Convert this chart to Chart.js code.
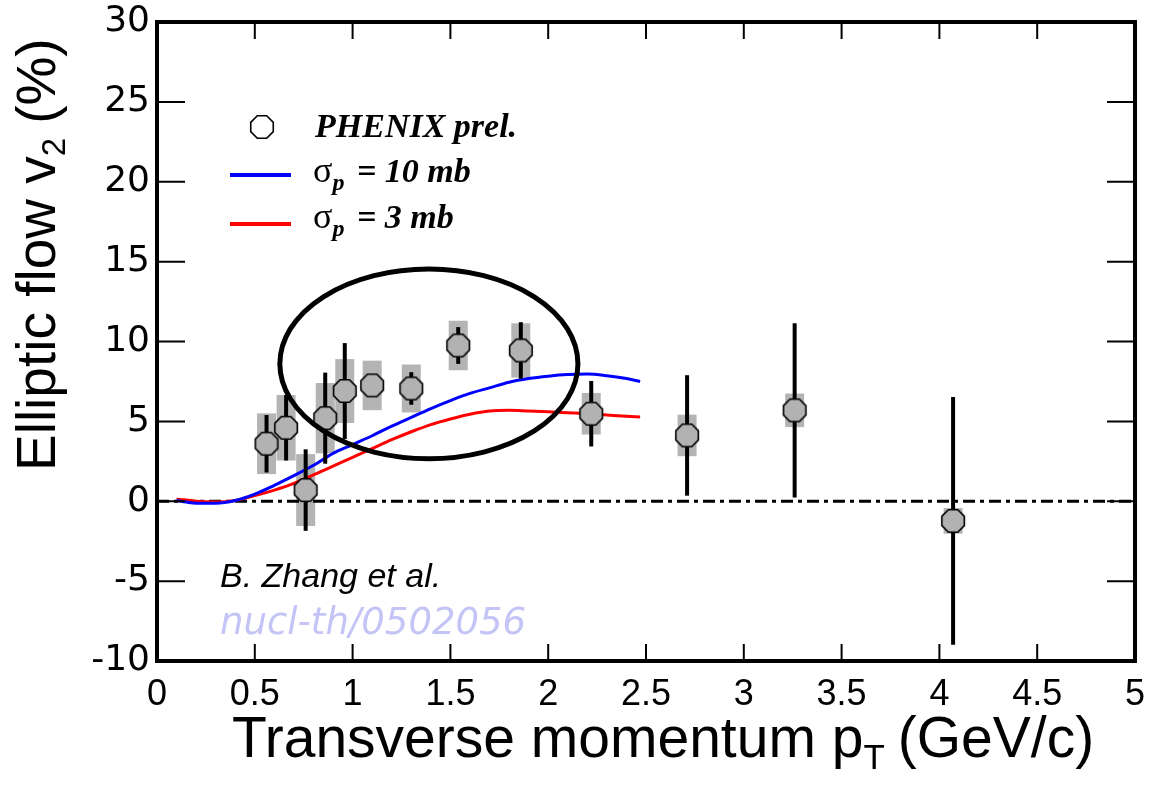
<!DOCTYPE html>
<html>
<head>
<meta charset="utf-8">
<title>Elliptic flow v2 vs pT</title>
<script src="https://cdn.jsdelivr.net/npm/chart.js@4.4.1/dist/chart.umd.min.js"></script>
<style>
  html, body { margin: 0; padding: 0; background: #fff; }
  #wrap { width: 1150px; height: 785px; }
</style>
</head>
<body>
<div id="wrap"><canvas id="v2chart" width="1150" height="785"></canvas></div>
<script>
// PHENIX preliminary v2 (%) with statistical and systematic errors
const ptValues = [0.56, 0.66, 0.76, 0.86, 0.96, 1.10, 1.30, 1.54, 1.86, 2.22, 2.71, 3.26, 4.07];
const v2Values = [3.6, 4.6, 0.7, 5.2, 6.9, 7.25, 7.06, 9.75, 9.44, 5.48, 4.12, 5.69, -1.23];
const statErrors = [1.8, 2.05, 2.55, 2.85, 3.0, 0.6, 1.02, 1.15, 1.77, 2.05, 3.77, 5.45, 7.75];
const sysErrors = [1.9, 2.05, 2.25, 2.2, 2.0, 1.55, 1.5, 1.55, 1.7, 1.3, 1.3, 1.05, 0.8];

// transport model curves
const curvePt = [0.10, 0.15, 0.20, 0.30, 0.40, 0.50, 0.60, 0.70, 0.80, 0.90, 1.00, 1.10, 1.20,
  1.30, 1.40, 1.50, 1.60, 1.70, 1.80, 1.90, 2.00, 2.10, 2.20, 2.30, 2.40, 2.47];
const sigma10mb = [0.05, -0.05, -0.12, -0.12, 0.05, 0.45, 1.0, 1.6, 2.25, 3.0, 3.55, 4.1, 4.7,
  5.25, 5.8, 6.3, 6.75, 7.1, 7.45, 7.68, 7.83, 7.93, 7.96, 7.86, 7.68, 7.5];
const sigma3mb = [0.12, 0.08, 0.0, -0.05, 0.05, 0.35, 0.7, 1.12, 1.65, 2.2, 2.75, 3.3, 3.85,
  4.35, 4.8, 5.15, 5.45, 5.65, 5.7, 5.65, 5.6, 5.54, 5.48, 5.4, 5.32, 5.27];

const xTicks = [0, 0.5, 1, 1.5, 2, 2.5, 3, 3.5, 4, 4.5, 5];
const yTicks = [-10, -5, 0, 5, 10, 15, 20, 25, 30];

// highlighted region (data units)
const ringCenter = [1.39, 8.6];
const ringRadii = [0.762, 5.94];

const SANS = '"Liberation Sans", Arial, sans-serif';
const SERIF = '"Liberation Serif", "Times New Roman", serif';

function octagonPath(ctx, cx, cy, r) {
  ctx.beginPath();
  for (let k = 0; k < 8; k++) {
    const a = Math.PI / 8 + k * Math.PI / 4;
    const px = cx + r * Math.cos(a), py = cy + r * Math.sin(a);
    if (k) ctx.lineTo(px, py); else ctx.moveTo(px, py);
  }
  ctx.closePath();
}

function octagonImage(fill) {
  const c = document.createElement('canvas');
  c.width = c.height = 28;
  const g = c.getContext('2d');
  octagonPath(g, 14, 14, 12.2);
  g.fillStyle = fill;
  g.fill();
  g.lineWidth = 1.6;
  g.strokeStyle = '#000';
  g.stroke();
  return c;
}

const greyOctagon = octagonImage('#b2b2b2');
const whiteOctagon = octagonImage('#ffffff');

// draws a run of text pieces with different fonts / baseline shifts
function drawRich(ctx, parts, x, y) {
  let cx = x;
  parts.forEach(p => {
    ctx.font = p.font;
    ctx.fillText(p.text, cx, y + (p.dy || 0));
    cx += ctx.measureText(p.text).width + (p.gap || 0);
  });
}

const errorBars = {
  id: 'errorBars',
  beforeDatasetsDraw(chart) {
    const { ctx, scales: { x, y } } = chart;
    ctx.save();
    ctx.fillStyle = '#b4b4b4';
    ptValues.forEach((pt, i) => {
      const px = x.getPixelForValue(pt);
      const top = y.getPixelForValue(v2Values[i] + sysErrors[i]);
      const bot = y.getPixelForValue(v2Values[i] - sysErrors[i]);
      ctx.fillRect(px - 9.5, top, 19, bot - top);
    });
    ctx.restore();
  },
  beforeDatasetDraw(chart, args) {
    if (args.index !== 0) return;
    const { ctx, scales: { x, y } } = chart;
    ctx.save();
    ctx.strokeStyle = '#000';
    ctx.lineWidth = 4;
    ptValues.forEach((pt, i) => {
      const px = x.getPixelForValue(pt);
      ctx.beginPath();
      ctx.moveTo(px, y.getPixelForValue(v2Values[i] + statErrors[i]));
      ctx.lineTo(px, y.getPixelForValue(v2Values[i] - statErrors[i]));
      ctx.stroke();
    });
    ctx.restore();
  }
};

const decorations = {
  id: 'decorations',
  afterDatasetsDraw(chart) {
    const { ctx, scales: { x, y } } = chart;
    const cx = x.getPixelForValue(ringCenter[0]);
    const cy = y.getPixelForValue(ringCenter[1]);
    const rx = x.getPixelForValue(ringCenter[0] + ringRadii[0]) - cx;
    const ry = cy - y.getPixelForValue(ringCenter[1] + ringRadii[1]);
    ctx.save();
    ctx.beginPath();
    ctx.ellipse(cx, cy, rx, ry, 0, 0, Math.PI * 2);
    ctx.lineWidth = 5;
    ctx.strokeStyle = '#000';
    ctx.stroke();
    ctx.restore();
  },
  afterDraw(chart) {
    const { ctx, chartArea: a, scales: { x, y } } = chart;
    ctx.save();

    // inward ticks on all four sides
    ctx.strokeStyle = '#000';
    ctx.lineWidth = 2;
    ctx.beginPath();
    xTicks.forEach(v => {
      const px = x.getPixelForValue(v);
      ctx.moveTo(px, a.bottom); ctx.lineTo(px, a.bottom - 17);
      ctx.moveTo(px, a.top); ctx.lineTo(px, a.top + 17);
    });
    yTicks.forEach(v => {
      const py = y.getPixelForValue(v);
      ctx.moveTo(a.left, py); ctx.lineTo(a.left + 28, py);
      ctx.moveTo(a.right, py); ctx.lineTo(a.right - 28, py);
    });
    ctx.stroke();

    // frame
    ctx.lineWidth = 4;
    ctx.strokeRect(a.left, a.top, a.right - a.left, a.bottom - a.top);

    ctx.fillStyle = '#000';
    ctx.textBaseline = 'alphabetic';
    ctx.textAlign = 'left';

    // axis titles
    drawRich(ctx, [
      { text: 'Transverse momentum p', font: '57px ' + SANS },
      { text: 'T', font: '35px ' + SANS, dy: 12, gap: 13 },
      { text: '(GeV/c)', font: '57px ' + SANS }
    ], a.left + 75, a.bottom + 96);

    ctx.save();
    ctx.translate(a.left - 102, a.top + 449);
    ctx.rotate(-Math.PI / 2);
    drawRich(ctx, [
      { text: 'Elliptic flow v', font: '55px ' + SANS },
      { text: '2', font: '33px ' + SANS, dy: 10, gap: 14 },
      { text: '(%)', font: '55px ' + SANS }
    ], 0, 0);
    ctx.restore();

    // legend
    const lx = a.left;
    ctx.drawImage(whiteOctagon, lx + 105 - 14, a.top + 105 - 14);
    drawRich(ctx, [{ text: 'PHENIX prel.', font: 'italic bold 34px ' + SERIF }], lx + 158, a.top + 115);

    ctx.lineWidth = 4;
    ctx.strokeStyle = '#0000ff';
    ctx.beginPath(); ctx.moveTo(lx + 73, a.top + 153); ctx.lineTo(lx + 134, a.top + 153); ctx.stroke();
    drawRich(ctx, [
      { text: 'σ', font: '36px ' + SERIF },
      { text: 'p', font: 'italic bold 24px ' + SERIF, dy: 8, gap: 4 },
      { text: ' = 10 mb', font: 'italic bold 34px ' + SERIF }
    ], lx + 156, a.top + 160);

    ctx.strokeStyle = '#ff0000';
    ctx.beginPath(); ctx.moveTo(lx + 73, a.top + 202); ctx.lineTo(lx + 134, a.top + 202); ctx.stroke();
    drawRich(ctx, [
      { text: 'σ', font: '36px ' + SERIF },
      { text: 'p', font: 'italic bold 24px ' + SERIF, dy: 8, gap: 4 },
      { text: ' = 3 mb', font: 'italic bold 34px ' + SERIF }
    ], lx + 156, a.top + 206);

    // reference note
    ctx.font = 'italic 34px ' + SANS;
    ctx.fillStyle = '#000';
    ctx.fillText('B. Zhang et al.', lx + 63, a.top + 565);
    ctx.font = 'oblique 37px "DejaVu Sans", sans-serif';
    ctx.fillStyle = '#c4c4f6';
    ctx.fillText('nucl-th/0502056', lx + 63, a.top + 612);

    ctx.restore();
  }
};

const toXY = (xs, ys) => xs.map((v, i) => ({ x: v, y: ys[i] }));

new Chart(document.getElementById('v2chart'), {
  type: 'scatter',
  data: {
    datasets: [
      {
        label: 'PHENIX prel.',
        data: toXY(ptValues, v2Values),
        pointStyle: greyOctagon,
        order: 0
      },
      {
        label: 'σp = 10 mb',
        type: 'line',
        data: toXY(curvePt, sigma10mb),
        borderColor: '#0000ff',
        borderWidth: 3,
        pointRadius: 0,
        cubicInterpolationMode: 'monotone',
        fill: false,
        order: 2
      },
      {
        label: 'σp = 3 mb',
        type: 'line',
        data: toXY(curvePt, sigma3mb),
        borderColor: '#ff0000',
        borderWidth: 3,
        pointRadius: 0,
        cubicInterpolationMode: 'monotone',
        fill: false,
        order: 2
      },
      {
        label: 'zero',
        type: 'line',
        data: toXY([xTicks[0], xTicks[xTicks.length - 1]], [0, 0]),
        borderColor: '#000',
        borderWidth: 3,
        borderDash: [12, 5, 4, 5],
        pointRadius: 0,
        fill: false,
        order: 3
      }
    ]
  },
  options: {
    responsive: false,
    animation: false,
    events: [],
    layout: { padding: { top: 22, right: 15, left: 0, bottom: 0 } },
    plugins: { legend: { display: false }, tooltip: { enabled: false } },
    scales: {
      x: {
        type: 'linear',
        min: 0,
        max: 5,
        afterFit: s => { s.height = 124; s.paddingLeft = 0; s.paddingRight = 0; },
        afterBuildTicks: s => { s.ticks = xTicks.map(v => ({ value: v })); },
        grid: { display: false, drawTicks: false },
        border: { display: false },
        ticks: {
          color: '#000',
          padding: 12,
          maxRotation: 0,
          autoSkip: false,
          font: { family: SANS, size: 36 },
          callback: v => String(v)
        }
      },
      y: {
        type: 'linear',
        min: -10,
        max: 30,
        afterFit: s => { s.width = 157; s.paddingTop = 0; s.paddingBottom = 0; },
        afterBuildTicks: s => { s.ticks = yTicks.map(v => ({ value: v })); },
        grid: { display: false, drawTicks: false },
        border: { display: false },
        ticks: {
          color: '#000',
          padding: 7,
          autoSkip: false,
          font: { family: '"DejaVu Sans", sans-serif', size: 36 },
          callback: v => String(v)
        }
      }
    }
  },
  plugins: [errorBars, decorations]
});
</script>
</body>
</html>
